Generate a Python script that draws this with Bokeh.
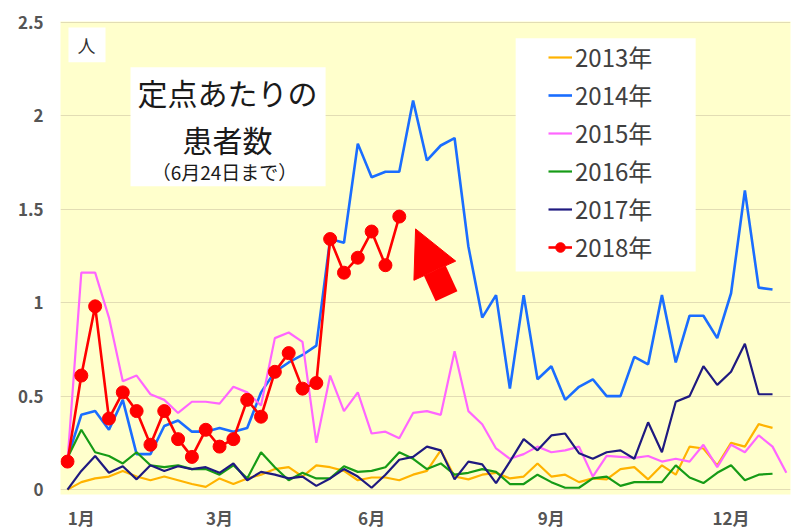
from bokeh.plotting import figure
from bokeh.models import (Range1d, FixedTicker, NumeralTickFormatter, Legend, LegendItem,
                          BoxAnnotation, Label, Arrow, NormalHead)
from bokeh.embed import file_html
from bokeh.resources import INLINE

# ---- data (weekly values, 定点あたりの患者数) ----
weeks = list(range(1, 54))
y2013 = [0.0, 0.04, 0.06, 0.07, 0.10, 0.07, 0.05, 0.07, 0.05, 0.03,
         0.015, 0.06, 0.03, 0.06, 0.08, 0.11, 0.12, 0.07, 0.13, 0.12,
         0.10, 0.05, 0.065, 0.065, 0.05, 0.08, 0.10, 0.21, 0.07, 0.055,
         0.08, 0.09, 0.06, 0.07, 0.14, 0.07, 0.08, 0.04, 0.06, 0.055,
         0.11, 0.12, 0.055, 0.13, 0.08, 0.23, 0.22, 0.13, 0.25, 0.23,
         0.35, 0.33]
y2014 = [0.17, 0.40, 0.42, 0.32, 0.48, 0.19, 0.19, 0.34, 0.37, 0.31,
         0.31, 0.33, 0.31, 0.33, 0.52, 0.63, 0.68, 0.72, 0.77, 1.34,
         1.32, 1.85, 1.67, 1.70, 1.70, 2.08, 1.76, 1.84, 1.88, 1.30,
         0.92, 1.04, 0.54, 1.04, 0.59, 0.66, 0.48, 0.55, 0.59, 0.50,
         0.50, 0.71, 0.67, 1.04, 0.68, 0.93, 0.93, 0.81, 1.05, 1.60,
         1.08, 1.07]
y2015 = [0.15, 1.16, 1.16, 0.92, 0.58, 0.61, 0.51, 0.48, 0.41, 0.47,
         0.47, 0.46, 0.55, 0.52, 0.45, 0.81, 0.84, 0.79, 0.25, 0.61,
         0.42, 0.52, 0.30, 0.31, 0.275, 0.41, 0.42, 0.40, 0.74, 0.42,
         0.35, 0.22, 0.165, 0.19, 0.23, 0.20, 0.21, 0.23, 0.07, 0.18,
         0.175, 0.17, 0.18, 0.15, 0.165, 0.15, 0.24, 0.12, 0.24, 0.20,
         0.29, 0.23, 0.09]
y2016 = [0.17, 0.32, 0.20, 0.18, 0.14, 0.20, 0.13, 0.12, 0.13, 0.11,
         0.11, 0.08, 0.13, 0.06, 0.20, 0.12, 0.05, 0.09, 0.06, 0.06,
         0.125, 0.095, 0.10, 0.12, 0.20, 0.165, 0.11, 0.14, 0.08, 0.09,
         0.11, 0.095, 0.03, 0.03, 0.08, 0.04, 0.01, 0.01, 0.06, 0.07,
         0.02, 0.04, 0.04, 0.04, 0.13, 0.065, 0.035, 0.09, 0.13, 0.05,
         0.08, 0.085]
y2017 = [0.0, 0.10, 0.18, 0.09, 0.125, 0.055, 0.13, 0.10, 0.125, 0.11,
         0.12, 0.09, 0.14, 0.05, 0.095, 0.08, 0.06, 0.07, 0.02, 0.06,
         0.11, 0.07, 0.01, 0.08, 0.16, 0.175, 0.23, 0.21, 0.055, 0.15,
         0.135, 0.035, 0.15, 0.27, 0.21, 0.29, 0.30, 0.195, 0.165, 0.20,
         0.21, 0.165, 0.36, 0.20, 0.47, 0.50, 0.66, 0.56, 0.63, 0.78,
         0.51, 0.51]
y2018 = [0.15, 0.61, 0.98, 0.38, 0.52, 0.42, 0.24, 0.42, 0.27, 0.175,
         0.32, 0.23, 0.27, 0.48, 0.39, 0.63, 0.73, 0.54, 0.57, 1.34,
         1.16, 1.24, 1.38, 1.20, 1.46]

series_names = ["2013年", "2014年", "2015年", "2016年", "2017年", "2018年"]
series_values = [y2013, y2014, y2015, y2016, y2017, y2018]
series_colors = ["#FFB300", "#1A6DFF", "#FF66FF", "#169B16", "#1F1A80", "#FF0000"]

y_ticks = [0, 0.5, 1, 1.5, 2, 2.5]
month_ticks = [2, 12, 23, 36, 49]
month_labels = ["1月", "3月", "6月", "9月", "12月"]

JP = "Noto Sans CJK JP"

p = figure(width=798, height=532, output_backend="svg", toolbar_location=None,
           x_range=Range1d(0.494, 53.30), y_range=Range1d(-0.026, 2.503),
           min_border_left=60, min_border_right=8, min_border_top=21, min_border_bottom=34,
           background_fill_color="#FFFFCC", border_fill_color="white",
           outline_line_color=None)

p.xgrid.visible = False
p.ygrid.grid_line_color = "#E2DDB4"
p.ygrid.grid_line_width = 1
p.yaxis.ticker = FixedTicker(ticks=y_ticks)
p.yaxis.formatter = NumeralTickFormatter(format="0.[0]")
p.xaxis.ticker = FixedTicker(ticks=month_ticks)
p.xaxis.major_label_overrides = {t: l for t, l in zip(month_ticks, month_labels)}
for ax in (p.xaxis, p.yaxis):
    ax.axis_line_color = None
    ax.major_tick_line_color = None
    ax.minor_tick_line_color = None
    ax.major_tick_out = 0
    ax.major_tick_in = 0
    ax.major_label_text_color = "#555555"
    ax.major_label_text_font = JP
    ax.major_label_text_font_style = "bold"
    ax.major_label_text_font_size = "17px"
p.yaxis.major_label_standoff = 17
p.xaxis.major_label_standoff = 10

items = []
for name, vals, col in zip(series_names, series_values, series_colors):
    lw = 2.6 if name in ("2014年", "2018年") else 2.2
    r = p.line(weeks[:len(vals)], vals, line_color=col, line_width=lw)
    rends = [r]
    if name == "2018年":
        s = p.scatter(weeks[:len(vals)], vals, size=13, fill_color=col, line_color=col)
        rends.append(s)
    items.append(LegendItem(label=name, renderers=rends))

# white boxes behind the texts
p.add_layout(BoxAnnotation(left=1.07, right=3.75, top=2.471, bottom=2.285,
                           fill_color="white", fill_alpha=1, line_color=None))
p.add_layout(BoxAnnotation(left=5.56, right=19.67, top=2.259, bottom=1.622,
                           fill_color="white", fill_alpha=1, line_color=None))
p.add_layout(BoxAnnotation(left=33.42, right=46.44, top=2.413, bottom=1.166,
                           fill_color="white", fill_alpha=1, line_color=None))

p.add_layout(Label(x=2.37, y=2.375, text="人", text_align="center", text_baseline="middle",
                   text_font=JP, text_font_size="18px", text_color="#333333"))
p.add_layout(Label(x=12.58, y=2.126, text="定点あたりの", text_align="center", text_baseline="middle",
                   text_font=JP, text_font_size="30px", text_color="#1a1a1a"))
p.add_layout(Label(x=12.58, y=1.877, text="患者数", text_align="center", text_baseline="middle",
                   text_font=JP, text_font_size="30px", text_color="#1a1a1a"))
p.add_layout(Label(x=12.36, y=1.702, text="（6月24日まで）", text_align="center", text_baseline="middle",
                   text_font=JP, text_font_size="19px", text_color="#1a1a1a"))

p.add_layout(Arrow(x_start=28.42, y_start=1.034, x_end=26.18, y_end=1.394,
                   line_color="#FF0000", line_width=24,
                   end=NormalHead(size=46, fill_color="#FF0000", line_color="#FF0000")))

legend = Legend(items=items, location=(488, 230), background_fill_alpha=0,
                border_line_color=None, padding=0, margin=0, spacing=3,
                glyph_width=24, glyph_height=30, label_height=30, label_standoff=3,
                label_text_font=JP, label_text_font_size="24px", label_text_color="#404040")
p.add_layout(legend)

open("out.html", "w").write(file_html(p, INLINE))
